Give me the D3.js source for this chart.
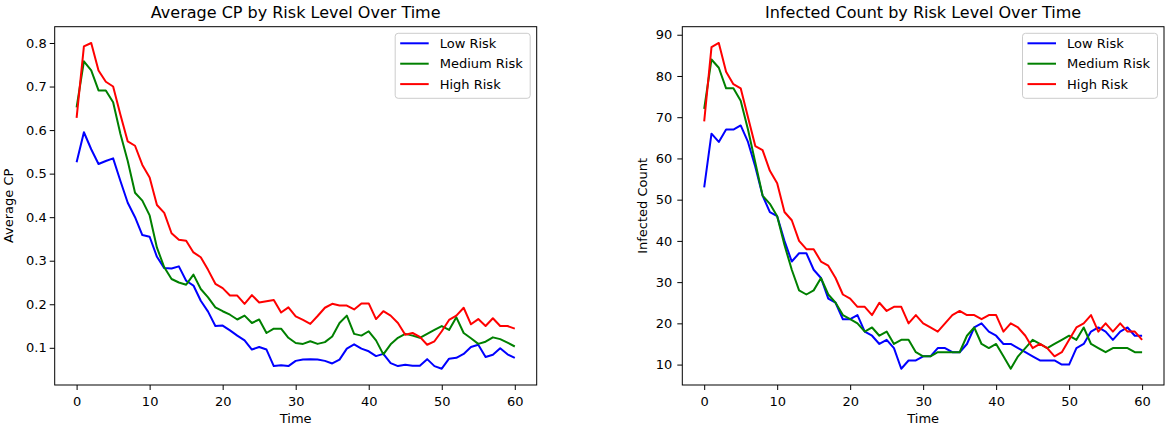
<html>
<head>
<meta charset="utf-8">
<script src="https://d3js.org/d3.v7.min.js"></script>
<style>
  body { margin: 0; background: white; }
  text { font-family: "DejaVu Sans", sans-serif; fill: #000; }
  .axis path, .axis line { stroke: #000; }
  .axis text { font-size: 13px; }
</style>
</head>
<body>
<div id="chart"></div>
<script>
// time steps 0..60
var times = d3.range(0, 61);

var riskLevels = ["Low Risk", "Medium Risk", "High Risk"];
var riskColors = ["blue", "green", "red"];

// Average CP per risk level
var cpLow = [0.526, 0.595, 0.556, 0.522, 0.529, 0.535, 0.483, 0.433, 0.400, 0.359,
  0.355, 0.309, 0.283, 0.282, 0.287, 0.254, 0.243, 0.208, 0.183, 0.150,
  0.151, 0.140, 0.128, 0.117, 0.096, 0.102, 0.096, 0.058, 0.060, 0.058,
  0.070, 0.073, 0.074, 0.073, 0.070, 0.064, 0.073, 0.098, 0.108, 0.098,
  0.092, 0.081, 0.086, 0.065, 0.058, 0.061, 0.059, 0.059, 0.074, 0.058,
  0.052, 0.075, 0.077, 0.086, 0.102, 0.107, 0.079, 0.084, 0.099, 0.085, 0.077];
var cpMedium = [0.652, 0.758, 0.737, 0.691, 0.691, 0.664, 0.591, 0.529, 0.456, 0.438,
  0.404, 0.330, 0.285, 0.258, 0.250, 0.245, 0.268, 0.235, 0.216, 0.193,
  0.184, 0.176, 0.165, 0.174, 0.157, 0.165, 0.134, 0.144, 0.144, 0.123,
  0.111, 0.109, 0.115, 0.109, 0.113, 0.126, 0.157, 0.174, 0.132, 0.128,
  0.138, 0.117, 0.085, 0.108, 0.123, 0.132, 0.128, 0.123, 0.132, 0.141,
  0.150, 0.141, 0.170, 0.134, 0.122, 0.109, 0.114, 0.124, 0.120, 0.112, 0.103];
var cpHigh = [0.628, 0.792, 0.800, 0.737, 0.711, 0.700, 0.635, 0.574, 0.564, 0.520,
  0.491, 0.428, 0.410, 0.363, 0.348, 0.346, 0.319, 0.308, 0.279, 0.247,
  0.237, 0.220, 0.220, 0.201, 0.221, 0.204, 0.207, 0.210, 0.181, 0.193,
  0.172, 0.164, 0.155, 0.173, 0.192, 0.201, 0.197, 0.197, 0.188, 0.202,
  0.202, 0.166, 0.184, 0.174, 0.157, 0.130, 0.134, 0.125, 0.107, 0.115,
  0.138, 0.164, 0.174, 0.192, 0.154, 0.166, 0.150, 0.168, 0.150, 0.150, 0.144];

// Infected count per risk level
var infLow = [53, 66, 64, 67, 67, 68, 64, 58, 51, 47,
  46, 40, 35, 37, 37, 33, 31, 26, 25, 21,
  21, 22, 18, 17, 15, 16, 14, 9, 11, 11,
  12, 12, 14, 14, 13, 13, 15, 19, 20, 18,
  17, 15, 15, 14, 13, 12, 11, 11, 11, 10,
  10, 14, 15, 18, 19, 18, 16, 18, 19, 17, 17];
var infMedium = [72, 84, 82, 77, 77, 74, 67, 59, 51, 49,
  46, 39, 33, 28, 27, 28, 31, 27, 25, 22,
  21, 20, 18, 19, 17, 18, 15, 16, 16, 13,
  12, 12, 13, 13, 13, 13, 17, 19, 15, 14,
  15, 12, 9, 12, 14, 16, 15, 14, 15, 16,
  17, 16, 19, 15, 14, 13, 14, 14, 14, 13, 13];
var infHigh = [69, 87, 88, 81, 78, 77, 70, 63, 62, 57,
  54, 47, 45, 40, 38, 38, 35, 34, 31, 27,
  26, 24, 24, 22, 25, 23, 24, 24, 20, 22,
  20, 19, 18, 20, 22, 23, 22, 22, 21, 22,
  22, 18, 20, 19, 17, 14, 15, 14, 12, 13,
  16, 19, 20, 22, 18, 20, 18, 20, 18, 18, 16];

var xTicks = [0, 10, 20, 30, 40, 50, 60];
var cpTicks = [0.1, 0.2, 0.3, 0.4, 0.5, 0.6, 0.7, 0.8];
var infTicks = [10, 20, 30, 40, 50, 60, 70, 80, 90];

var W = 1170, H = 428;
var svg = d3.select("#chart").append("svg")
    .attr("width", W)
    .attr("height", H);
svg.append("rect").attr("width", W).attr("height", H).attr("fill", "white");

// matplotlib style 5% margins
function padded(ext) {
    var p = (ext[1] - ext[0]) * 0.05;
    return [ext[0] - p, ext[1] + p];
}

function drawPanel(opt) {
    var w = opt.right - opt.left, h = opt.bottom - opt.top;
    var g = svg.append("g").attr("transform", "translate(" + opt.left + "," + opt.top + ")");

    var x = d3.scaleLinear().domain(padded(d3.extent(times))).range([0, w]);
    var all = d3.merge(opt.series);
    var y = d3.scaleLinear().domain(padded(d3.extent(all))).range([h, 0]);

    var line = d3.line()
        .x(function(d, i) { return x(times[i]); })
        .y(function(d) { return y(d); });

    g.selectAll(".series")
        .data(opt.series)
        .enter()
        .append("path")
        .attr("class", "series")
        .attr("d", line)
        .attr("fill", "none")
        .attr("stroke", function(d, i) { return riskColors[i]; })
        .attr("stroke-width", 2)
        .attr("stroke-linejoin", "round");

    g.append("g")
        .attr("class", "axis")
        .attr("transform", "translate(0," + h + ")")
        .call(d3.axisBottom(x).tickValues(xTicks).tickSize(5).tickPadding(6.5).tickSizeOuter(0))
        .select(".domain").remove();

    g.append("g")
        .attr("class", "axis")
        .call(d3.axisLeft(y).tickValues(opt.yTicks).tickFormat(opt.yFormat)
            .tickSize(5).tickPadding(opt.yPad).tickSizeOuter(0))
        .select(".domain").remove();

    // frame
    g.append("rect")
        .attr("width", w).attr("height", h)
        .attr("fill", "none")
        .attr("stroke", "#000")
        .attr("stroke-width", 1);

    svg.append("text")
        .attr("x", opt.left + w / 2)
        .attr("y", 18)
        .attr("text-anchor", "middle")
        .style("font-size", "16px")
        .text(opt.title);

    svg.append("text")
        .attr("x", opt.left + w / 2)
        .attr("y", 422.5)
        .attr("text-anchor", "middle")
        .style("font-size", "13px")
        .text("Time");

    svg.append("text")
        .attr("transform", "translate(" + opt.yLabelX + "," + (opt.top + h / 2) + ") rotate(-90)")
        .attr("text-anchor", "middle")
        .style("font-size", "13px")
        .text(opt.yLabel);

    // legend
    var lg = svg.append("g").attr("transform", "translate(" + (opt.right - 6.5 - 135) + "," + 33.3 + ")");
    lg.append("rect")
        .attr("width", 135).attr("height", 65)
        .attr("rx", 3)
        .attr("fill", "white")
        .attr("fill-opacity", 0.8)
        .attr("stroke", "#cccccc")
        .attr("stroke-width", 1);
    var rows = lg.selectAll(".row")
        .data(riskLevels)
        .enter()
        .append("g")
        .attr("transform", function(d, i) { return "translate(0," + (10 + i * 20.4) + ")"; });
    rows.append("line")
        .attr("x1", 5).attr("x2", 33.5)
        .attr("stroke", function(d, i) { return riskColors[i]; })
        .attr("stroke-width", 2);
    rows.append("text")
        .attr("x", 44.5)
        .attr("dy", "0.36em")
        .style("font-size", "13px")
        .text(function(d) { return d; });
}

drawPanel({
    left: 54.7, right: 536.7, top: 26.7, bottom: 385,
    series: [cpLow, cpMedium, cpHigh],
    yTicks: cpTicks, yFormat: d3.format(".1f"), yPad: 3,
    title: "Average CP by Risk Level Over Time",
    yLabel: "Average CP", yLabelX: 12.8
});

drawPanel({
    left: 682.3, right: 1164, top: 26.7, bottom: 385,
    series: [infLow, infMedium, infHigh],
    yTicks: infTicks, yFormat: d3.format("d"), yPad: 5,
    title: "Infected Count by Risk Level Over Time",
    yLabel: "Infected Count", yLabelX: 646.5
});
</script>
</body>
</html>
